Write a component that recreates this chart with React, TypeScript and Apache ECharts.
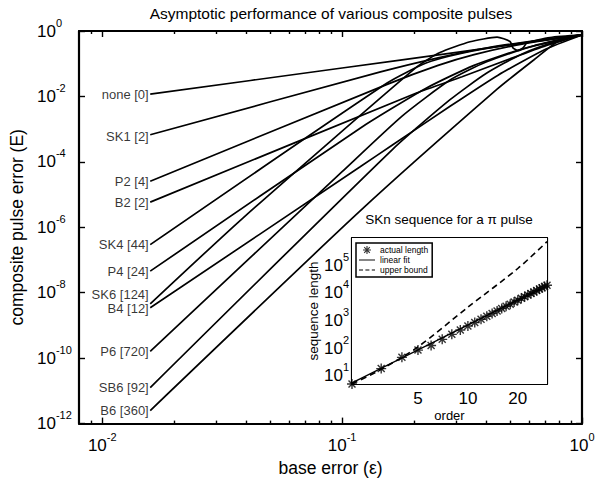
import React, { useEffect, useRef } from 'react';
import * as echarts from 'echarts';

const FONT = '"Liberation Sans", Arial, Helvetica, sans-serif';

// ---------- main plot data: [base error ε, composite pulse error E] ----------
const curveNames = ['none [0]', 'SK1 [2]', 'P2 [4]', 'B2 [2]', 'SK4 [44]', 'P4 [24]', 'SK6 [124]', 'B4 [12]', 'P6 [720]', 'SB6 [92]', 'B6 [360]'];

const curveNone = [[0.01585, 1.175e-2], [0.1, 7.41e-2], [0.3162, 0.2344], [1, 0.7586]];
const curveSK1 = [[0.01585, 6.76e-4], [0.1445, 5.62e-2], [0.2512, 0.1514], [0.3981, 0.302], [0.631, 0.501], [1, 0.7586]];
const curveP2 = [[0.01585, 2.57e-5], [0.154, 2.34e-2], [0.2512, 8.91e-2], [0.3548, 0.1905], [0.5623, 0.398], [1, 0.7586]];
const curveB2 = [[0.01585, 5.89e-6], [0.2054, 1.288e-2], [0.3162, 3.98e-2], [0.5012, 0.1413], [0.7079, 0.3548], [1, 0.7586]];
const curveSK4 = [[0.01585, 2.95e-7], [0.154, 2.57e-2], [0.2239, 0.1047], [0.3162, 0.2089], [0.5012, 0.3802], [1, 0.7586]];
const curveP4 = [[0.01585, 4.57e-8], [0.1189, 1.07e-3], [0.2239, 1.778e-2], [0.3548, 8.91e-2], [0.5623, 0.2818], [1, 0.7586]];
const curveSK6 = [[0.01585, 4.57e-9], [0.03868, 1.95e-6], [0.2054, 8.13e-2], [0.2559, 0.2188], [0.3412, 0.4677], [0.4426, 0.6457], [0.5012, 0.4786], [0.5158, 0.302], [0.5408, 0.2512], [0.5675, 0.302], [0.5902, 0.4365], [0.7362, 0.631], [1, 0.7586]];
const curveB4 = [[0.01585, 3.47e-9], [0.1189, 7.08e-5], [0.1632, 3.39e-4], [0.2818, 5.01e-3], [0.4467, 4.47e-2], [0.7079, 0.2818], [1, 0.7586]];
const curveP6 = [[0.01585, 1.62e-10], [0.1, 5.01e-5], [0.1778, 2.51e-3], [0.2818, 3.16e-2], [0.3981, 0.1122], [0.631, 0.3548], [1, 0.7586]];
const curveSB6 = [[0.01585, 1.26e-11], [0.1632, 2.51e-4], [0.2818, 7.94e-3], [0.3981, 5.01e-2], [0.5623, 0.1995], [0.7943, 0.501], [1, 0.7586]];
const curveB6 = [[0.01585, 2.51e-12], [0.1189, 3.16e-6], [0.4426, 1.66e-2], [0.631, 0.1318], [0.8128, 0.537], [1, 0.7586]];

const curves = [curveNone, curveSK1, curveP2, curveB2, curveSK4, curveP4, curveSK6, curveB4, curveP6, curveSB6, curveB6];
const labelShift = [0, 2, 0, 0, 0, 0, -9, 1, 0, 0, 0];

const epsMajorTicks = [0.01, 0.1, 1];
const epsMinorTicks = [0.009, 0.02, 0.03, 0.04, 0.05, 0.06, 0.07, 0.08, 0.09, 0.2, 0.3, 0.4, 0.5, 0.6, 0.7, 0.8, 0.9];
const errTicks = [1e-12, 1e-10, 1e-8, 1e-6, 1e-4, 1e-2, 1];

// ---------- inset data ----------
const orders = [2, 3, 4, 5, 6, 7, 8, 9, 10, 11, 12, 13, 14, 15, 16, 17, 18, 19, 20, 21, 22, 23, 24, 25, 26, 27, 28, 29, 30];
const actualLength = [5, 18, 46, 84, 124, 206, 312, 449, 625, 837, 1100, 1400, 1770, 2190, 2670, 3230, 3850, 4570, 5360, 6240, 7210, 8270, 9410, 10700, 12000, 13500, 15100, 16800, 18600];
const linearFit = [[2, 5.5], [30, 18000]];
const upperBound = [[2, 5], [3, 17], [5, 110], [10, 3000], [20, 75000], [30, 700000]];
const orderTicks = [5, 10, 20];
const lengthTicks = [10, 100, 1000, 10000, 100000];

const ASTERISK = 'path://M4.3 0L5.7 0L5.7 10L4.3 10ZM0 4.3L10 4.3L10 5.7L0 5.7ZM1.0 2.0L2.0 1.0L9.0 8.0L8.0 9.0ZM8.0 1.0L9.0 2.0L2.0 9.0L1.0 8.0Z';
const SOLID_ICON = 'path://M0 4.4L20 4.4L20 5.6L0 5.6Z';
const DASH_ICON = 'path://M0 4.4L5 4.4L5 5.6L0 5.6ZM8 4.4L13 4.4L13 5.6L8 5.6ZM16 4.4L20 4.4L20 5.6L16 5.6Z';

const powRich = {
  b: { fontSize: 17, lineHeight: 28, fontFamily: FONT, color: '#000' },
  e: { fontSize: 11, lineHeight: 12, verticalAlign: 'top', fontFamily: FONT, color: '#000' },
};
const powFmt = (v: number) => `{b|10}{e|${Math.round(Math.log10(v))}}`;

const black = '#000';

function logAxis(extra: any) {
  return {
    type: 'log',
    logBase: 10,
    splitLine: { show: false },
    minorTick: { show: false },
    axisLine: { show: false, onZero: false, lineStyle: { color: black, width: 2 } },
    axisTick: { show: true, inside: true, length: 6, lineStyle: { color: black, width: 1.3 } },
    axisLabel: { show: false },
    ...extra,
  };
}

export default function App() {
  const ref = useRef<HTMLDivElement>(null);
  useEffect(() => {
    document.body.style.margin = '0';
    const chart = echarts.init(ref.current!, null, { renderer: 'svg' });

    const xAxes = [
      logAxis({
        gridIndex: 0, position: 'bottom', min: 0.008, max: 1,
        axisLine: { show: true, onZero: false, lineStyle: { color: black, width: 2.2 } },
        axisTick: { show: true, inside: true, length: 6, customValues: epsMajorTicks, lineStyle: { color: black, width: 1.4 } },
        axisLabel: { show: true, customValues: epsMajorTicks, formatter: powFmt, rich: powRich, margin: 8, color: black },
        name: 'base error (ε)', nameLocation: 'middle', nameGap: 28,
        nameTextStyle: { fontSize: 17.5, fontFamily: FONT, color: black },
      }),
      logAxis({
        gridIndex: 0, position: 'bottom', min: 0.008, max: 1,
        axisTick: { show: true, inside: true, length: 3, customValues: epsMinorTicks, lineStyle: { color: black, width: 1.4 } },
      }),
      logAxis({
        gridIndex: 0, position: 'top', min: 0.008, max: 1,
        axisLine: { show: true, onZero: false, lineStyle: { color: black, width: 2.2 } },
        axisTick: { show: true, inside: true, length: 6, customValues: epsMajorTicks, lineStyle: { color: black, width: 1.4 } },
      }),
      logAxis({
        gridIndex: 0, position: 'top', min: 0.008, max: 1,
        axisTick: { show: true, inside: true, length: 3, customValues: epsMinorTicks, lineStyle: { color: black, width: 1.4 } },
      }),
      logAxis({
        gridIndex: 1, position: 'bottom', min: 2, max: 30,
        axisLine: { show: true, onZero: false, lineStyle: { color: black, width: 2.2 } },
        axisTick: { show: true, inside: true, length: 4, customValues: orderTicks, lineStyle: { color: black, width: 1.2 } },
        axisLabel: { show: true, customValues: orderTicks, fontSize: 17, fontFamily: FONT, color: black, margin: 6 },
        name: 'order', nameLocation: 'middle', nameGap: 25,
        nameTextStyle: { fontSize: 13, fontFamily: FONT, color: black },
      }),
      logAxis({
        gridIndex: 1, position: 'top', min: 2, max: 30,
        axisLine: { show: true, onZero: false, lineStyle: { color: black, width: 2.2 } },
        axisTick: { show: true, inside: true, length: 4, customValues: orderTicks, lineStyle: { color: black, width: 1.2 } },
      }),
    ];

    const yAxes = [
      logAxis({
        gridIndex: 0, position: 'left', min: 1e-12, max: 1,
        axisLine: { show: true, onZero: false, lineStyle: { color: black, width: 2.2 } },
        axisTick: { show: true, inside: true, length: 6, customValues: errTicks, lineStyle: { color: black, width: 1.4 } },
        axisLabel: { show: true, customValues: errTicks, formatter: powFmt, rich: powRich, margin: 42, align: 'left', color: black },
        name: 'composite pulse error (E)', nameLocation: 'middle', nameGap: 44,
        nameTextStyle: { fontSize: 17.5, fontFamily: FONT, color: black },
      }),
      logAxis({
        gridIndex: 0, position: 'right', min: 1e-12, max: 1,
        axisLine: { show: true, onZero: false, lineStyle: { color: black, width: 2.2 } },
        axisTick: { show: true, inside: true, length: 6, customValues: errTicks, lineStyle: { color: black, width: 1.4 } },
      }),
      logAxis({
        gridIndex: 1, position: 'left', min: 5, max: 950000,
        axisLine: { show: true, onZero: false, lineStyle: { color: black, width: 2.2 } },
        axisTick: { show: true, inside: true, length: 4, customValues: lengthTicks, lineStyle: { color: black, width: 1.2 } },
        axisLabel: { show: true, customValues: lengthTicks, formatter: powFmt, rich: powRich, margin: 3, color: black },
        name: 'sequence length', nameLocation: 'middle', nameGap: 31,
        nameTextStyle: { fontSize: 13.5, fontFamily: FONT, color: black },
      }),
      logAxis({
        gridIndex: 1, position: 'right', min: 5, max: 950000,
        axisLine: { show: true, onZero: false, lineStyle: { color: black, width: 2.2 } },
        axisTick: { show: true, inside: true, length: 4, customValues: lengthTicks, lineStyle: { color: black, width: 1.2 } },
      }),
    ];

    const curveSeries = curves.map((c, i) => ({
      name: curveNames[i],
      type: 'line',
      xAxisIndex: 0,
      yAxisIndex: 0,
      data: c,
      showSymbol: false,
      symbol: 'none',
      smooth: 0.2,
      silent: true,
      z: 3,
      lineStyle: { color: black, width: 1.7 },
    }));

    const option: any = {
      animation: false,
      backgroundColor: '#fff',
      textStyle: { fontFamily: FONT, color: black },
      grid: [
        { left: 79, top: 31, right: 31, bottom: 54, containLabel: false },
        { left: 352, top: 238, width: 195, height: 146, show: true, backgroundColor: '#fff', borderWidth: 0, z: 5 },
      ],
      xAxis: xAxes,
      yAxis: yAxes,
      legend: {
        data: [
          { name: 'actual length', icon: ASTERISK },
          { name: 'linear fit', icon: SOLID_ICON },
          { name: 'upper bound', icon: DASH_ICON },
        ],
        left: 356, top: 243,
        orient: 'vertical',
        itemGap: 0,
        itemWidth: 16,
        itemHeight: 8,
        padding: [2, 4, 2, 3],
        borderColor: black,
        borderWidth: 1.5,
        borderRadius: 0,
        backgroundColor: '#fff',
        selectedMode: false,
        itemStyle: { color: black, borderWidth: 0 },
        textStyle: { fontSize: 8.5, lineHeight: 10, fontFamily: FONT, color: black },
        z: 10,
      },
      graphic: [
        {
          type: 'text', x: 331, y: 13, z: 10,
          style: { text: 'Asymptotic performance of various composite pulses', fill: black, font: `15.5px ${FONT}`, textAlign: 'center', textVerticalAlign: 'middle' },
        },
        {
          type: 'text', x: 449, y: 219, z: 10,
          style: { text: 'SKn sequence for a π pulse', fill: black, font: `13.5px ${FONT}`, textAlign: 'center', textVerticalAlign: 'middle' },
        },
      ],
      series: [
        ...curveSeries,
        {
          name: 'curve labels',
          type: 'scatter',
          xAxisIndex: 0,
          yAxisIndex: 0,
          symbolSize: 1,
          silent: true,
          itemStyle: { color: 'rgba(0,0,0,0)' },
          data: curves.map((c, i) => ({ value: c[0], label: { offset: [0, labelShift[i]] } })),
          label: {
            show: true, position: 'left', distance: 1,
            formatter: (p: any) => curveNames[p.dataIndex],
            fontSize: 13, fontFamily: FONT, color: black,
          },
          z: 4,
        },
        {
          name: 'actual length',
          type: 'scatter',
          xAxisIndex: 4,
          yAxisIndex: 2,
          symbol: ASTERISK,
          symbolSize: 10,
          clip: false,
          itemStyle: { color: black },
          data: orders.map((o, i) => [o, actualLength[i]]),
          z: 7,
        },
        {
          name: 'linear fit',
          type: 'line',
          xAxisIndex: 4,
          yAxisIndex: 2,
          symbol: 'none',
          showSymbol: false,
          data: linearFit,
          lineStyle: { color: black, width: 1.3 },
          itemStyle: { color: black },
          z: 6,
        },
        {
          name: 'upper bound',
          type: 'line',
          xAxisIndex: 4,
          yAxisIndex: 2,
          symbol: 'none',
          showSymbol: false,
          smooth: 0.3,
          data: upperBound,
          lineStyle: { color: black, width: 1.6, type: [6, 4] },
          itemStyle: { color: black },
          z: 6,
        },
      ],
    };

    chart.setOption(option);
    return () => chart.dispose();
  }, []);

  return <div ref={ref} style={{ position: 'fixed', left: 0, top: 0, width: 613, height: 482, background: '#fff' }} />;
}
